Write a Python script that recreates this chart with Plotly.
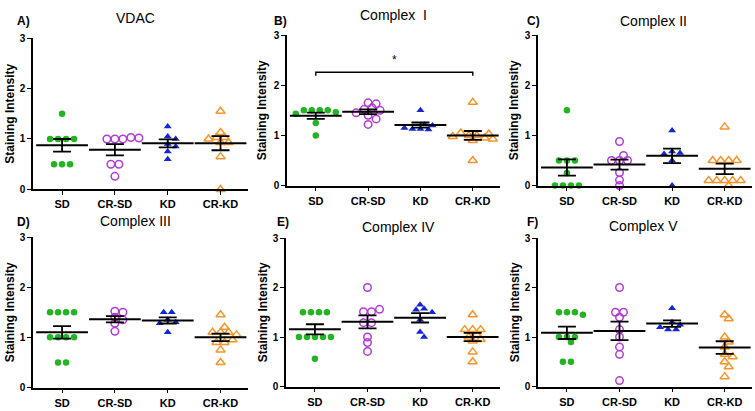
import math
import numpy as np
import plotly.graph_objects as go

groups = ["SD", "CR-SD", "KD", "CR-KD"]
panel_letters = ["A)", "B)", "C)", "D)", "E)", "F)"]
panel_titles = ["VDAC", "Complex  I", "Complex II", "Complex III", "Complex IV", "Complex V"]
y_ticks = [0, 1, 2, 3]
y_title = "Staining Intensity"

# ---- data ----
vdac_sd = [1.5, 1.0, 1.0, 1.0, 1.0, 0.5, 0.5, 0.5]
vdac_crsd = [1.03, 1.02, 1.0, 1.0, 1.0, 0.5, 0.5, 0.26]
vdac_kd = [1.25, 1.05, 1.0, 0.9, 0.85, 0.75, 0.6]
vdac_crkd = [1.55, 1.13, 1.03, 1.0, 1.03, 0.93, 0.93, 0.65, 0.0]

c1_sd = [1.5, 1.5, 1.5, 1.5, 1.46, 1.43, 1.25, 1.0]
c1_crsd = [1.65, 1.63, 1.55, 1.52, 1.5, 1.45, 1.4, 1.33, 1.22]
c1_kd = [1.5, 1.22, 1.2, 1.15, 1.13, 1.12, 1.13]
c1_crkd = [1.66, 1.05, 1.03, 1.0, 1.0, 0.98, 0.95, 0.93, 0.9, 0.5]

c2_sd = [1.5, 0.5, 0.5, 0.5, 0.25, 0.0, 0.0, 0.0, 0.0]
c2_crsd = [0.88, 0.6, 0.5, 0.5, 0.5, 0.26, 0.11, 0.0]
c2_kd = [1.1, 0.68, 0.65, 0.63, 0.5, 0.0]
c2_crkd = [1.17, 0.5, 0.5, 0.5, 0.5, 0.1, 0.1, 0.1, 0.1, 0.0, 0.1]

c3_sd = [1.5, 1.5, 1.5, 1.5, 1.0, 1.0, 1.0, 1.0, 0.5, 0.5]
c3_crsd = [1.52, 1.5, 1.4, 1.35, 1.28, 1.12]
c3_kd = [1.5, 1.5, 1.35, 1.3, 1.28, 1.1]
c3_crkd = [1.45, 1.2, 1.1, 1.1, 1.1, 1.05, 0.95, 0.9, 0.9, 0.75, 0.5]

c4_sd = [1.5, 1.5, 1.5, 1.5, 1.0, 1.0, 1.0, 1.0, 1.0, 0.56]
c4_crsd = [2.0, 1.56, 1.51, 1.51, 1.29, 1.29, 1.0, 0.89, 0.71]
c4_kd = [1.65, 1.57, 1.55, 1.5, 1.35, 1.1, 1.0]
c4_crkd = [1.45, 1.15, 1.15, 1.15, 1.05, 1.0, 0.95, 0.92, 0.7, 0.5]

c5_sd = [1.5, 1.5, 1.5, 1.45, 1.0, 1.0, 1.0, 0.9, 0.5, 0.5]
c5_crsd = [2.0, 1.5, 1.5, 1.4, 1.15, 1.0, 0.8, 0.65, 0.12]
c5_kd = [1.58, 1.3, 1.25, 1.2, 1.15, 1.15]
c5_crkd = [1.45, 1.37, 1.0, 0.9, 0.8, 0.65, 0.6, 0.5, 0.4, 0.2]

panels = [
    [vdac_sd, vdac_crsd, vdac_kd, vdac_crkd],
    [c1_sd, c1_crsd, c1_kd, c1_crkd],
    [c2_sd, c2_crsd, c2_kd, c2_crkd],
    [c3_sd, c3_crsd, c3_kd, c3_crkd],
    [c4_sd, c4_crsd, c4_kd, c4_crkd],
    [c5_sd, c5_crsd, c5_kd, c5_crkd],
]

# significance bracket in panel B (SD vs CR-KD)
sig_from, sig_to = 0, 3
sig_y, sig_drop, sig_label = 2.26, 0.07, "*"

# ---- styles ----
W, H = 755, 411
colors = ["#22b422", "#b23ad6", "#1226d4", "#f7942a"]
symbols = ["circle", "circle-open", "triangle-up", "triangle-up-open"]
sizes = [6.5, 7.5, 7.0, 8.0]
FONT = "'Liberation Sans', Arial, sans-serif"
x_range = [-0.55, 3.52]

# panel boxes in pixels: (left, right, top, bottom)
boxes = [
    (33, 248, 33, 189), (287, 500, 30, 185), (538, 752, 30, 185),
    (33, 248, 238, 393), (286, 500, 239, 392), (538, 752, 239, 392),
]
letter_pos = [(23, 15), (280, 15), (533, 15), (23, 222), (283, 223), (532, 223)]
title_pos = [(135, 12), (393, 9), (653, 15), (135, 221), (398, 228), (643, 227)]
ytitle_x = [10, 262, 514, 10, 263, 515]


def swarm(vals, xpx, ypx, d=8.0, tol=0.02, coll=0.68):
    v = sorted(vals, reverse=True)
    clusters = []
    for val in v:
        if clusters and abs(clusters[-1][-1] - val) <= tol:
            clusters[-1].append(val)
        else:
            clusters.append([val])
    placed = []
    xs, ys = [], []
    order = sorted(range(len(clusters)), key=lambda i: -len(clusters[i]))
    cands = [0.0]
    for k in range(1, 30):
        cands += [k * d / 2, -k * d / 2]
    for i in order:
        cl = clusters[i]
        n = len(cl)
        for c in cands:
            offs = [c + (j - (n - 1) / 2) * d for j in range(n)]
            ok = True
            for j, o in enumerate(offs):
                for (px, py) in placed:
                    if math.hypot(o - px, cl[j] * ypx - py) < coll * d:
                        ok = False
                        break
                if not ok:
                    break
            if ok:
                break
        for j, o in enumerate(offs):
            placed.append((o, cl[j] * ypx))
            xs.append(o / xpx)
            ys.append(cl[j])
    return xs, ys


fig = go.Figure()
annotations = []
shapes = []

for p, data in enumerate(panels):
    L, R, T, B = boxes[p]
    ax = "" if p == 0 else str(p + 1)
    xpx = (R - L) / (x_range[1] - x_range[0])
    ypx = (B - T) / 3.0
    for g, vals in enumerate(data):
        xo, yv = swarm(vals, xpx, ypx)
        fig.add_trace(go.Scatter(
            x=[g + o for o in xo], y=yv, mode="markers",
            marker=dict(symbol=symbols[g], size=sizes[g], color=colors[g],
                        line=dict(color=colors[g], width=1.5 if "open" in symbols[g] else 0)),
            xaxis="x" + ax, yaxis="y" + ax, showlegend=False, cliponaxis=False,
            hoverinfo="y"))
        m = float(np.mean(vals))
        sem = float(np.std(vals, ddof=1) / math.sqrt(len(vals)))
        fig.add_trace(go.Scatter(
            x=[g], y=[m], mode="markers",
            marker=dict(symbol="line-ew", size=37, color="black",
                        line=dict(color="black", width=2)),
            error_y=dict(type="data", array=[sem], visible=True, color="black",
                         thickness=1.8, width=9),
            xaxis="x" + ax, yaxis="y" + ax, showlegend=False, cliponaxis=False))

    xd = [L / W, R / W]
    yd = [1 - B / H, 1 - T / H]
    fig.layout["xaxis" + ax] = dict(
        domain=xd, range=x_range, tickvals=list(range(len(groups))), ticktext=groups,
        showline=True, linecolor="black", linewidth=1.6, ticks="outside", ticklen=4,
        tickwidth=1.4, tickcolor="black", showgrid=False, zeroline=False,
        tickfont=dict(family=FONT, size=11, color="black", weight="bold"),
        anchor="y" + ax, fixedrange=True)
    fig.layout["yaxis" + ax] = dict(
        domain=yd, range=[0, 3], tickvals=y_ticks, ticktext=[str(t) for t in y_ticks],
        showline=True, linecolor="black", linewidth=1.6, ticks="outside", ticklen=4,
        tickwidth=1.4, tickcolor="black", showgrid=False, zeroline=False,
        tickfont=dict(family=FONT, size=10, color="black", weight="bold"),
        anchor="x" + ax, fixedrange=True)

    annotations.append(dict(text=y_title, x=ytitle_x[p] / W, y=1 - (T + B) / 2 / H,
                            xref="paper", yref="paper", textangle=-90, showarrow=False,
                            xanchor="center", yanchor="middle",
                            font=dict(family=FONT, size=12, color="black", weight="bold")))
    lx, ly = letter_pos[p]
    annotations.append(dict(text=panel_letters[p], x=lx / W, y=1 - ly / H, xref="paper",
                            yref="paper", showarrow=False, xanchor="center", yanchor="middle",
                            font=dict(family=FONT, size=12, color="black", weight="bold")))
    tx, ty = title_pos[p]
    annotations.append(dict(text=panel_titles[p], x=tx / W, y=1 - ty / H, xref="paper",
                            yref="paper", showarrow=False, xanchor="center", yanchor="middle",
                            font=dict(family=FONT, size=14, color="black")))

# significance bracket in panel B
shapes.append(dict(type="path", xref="x2", yref="y2",
                   path=f"M {sig_from},{sig_y - sig_drop} L {sig_from},{sig_y} L {sig_to},{sig_y} L {sig_to},{sig_y - sig_drop}",
                   line=dict(color="black", width=1.4)))
annotations.append(dict(text=sig_label, x=(sig_from + sig_to) / 2, y=sig_y + 0.07, xref="x2",
                        yref="y2", showarrow=False, yanchor="bottom",
                        font=dict(family=FONT, size=12, color="black")))

fig.update_layout(width=W, height=H, margin=dict(l=0, r=0, t=0, b=0),
                  paper_bgcolor="white", plot_bgcolor="white",
                  annotations=annotations, shapes=shapes, showlegend=False)
fig.write_html("out.html", config={"displayModeBar": False},
               post_script="document.body.style.margin='0px';document.body.style.overflow='hidden';")
